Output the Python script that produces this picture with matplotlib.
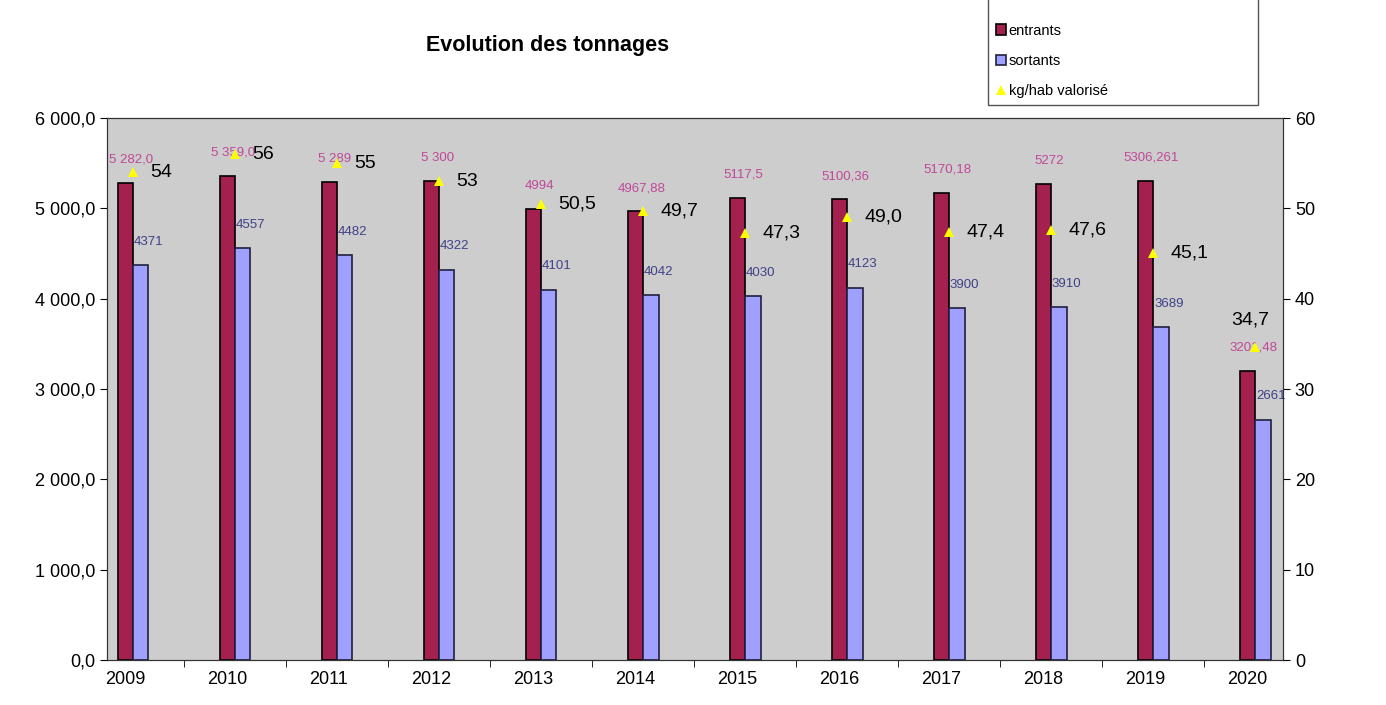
import matplotlib.pyplot as plt
import numpy as np
from matplotlib.ticker import FuncFormatter
from matplotlib.patches import Rectangle

# données
annees = ['2009', '2010', '2011', '2012', '2013', '2014', '2015', '2016', '2017', '2018', '2019', '2020']
entrants = [5282.0, 5359.0, 5289, 5300, 4994, 4967.88, 5117.5, 5100.36, 5170.18, 5272, 5306.261, 3201.48]
entrants_txt = ['5 282,0', '5 359,0', '5 289', '5 300', '4994', '4967,88', '5117,5', '5100,36',
                '5170,18', '5272', '5306,261', '3201,48']
sortants = [4371, 4557, 4482, 4322, 4101, 4042, 4030, 4123, 3900, 3910, 3689, 2661]
kg_hab = [54, 56, 55, 53, 50.5, 49.7, 47.3, 49.0, 47.4, 47.6, 45.1, 34.7]
kg_txt = ['54', '56', '55', '53', '50,5', '49,7', '47,3', '49,0', '47,4', '47,6', '45,1', '34,7']

plt.rcParams['font.family'] = ['Liberation Sans', 'DejaVu Sans']

fig = plt.figure(figsize=(13.86, 7.05), dpi=100)
ax = fig.add_axes([0.0772, 0.0638, 0.8485, 0.7688])
ax.set_facecolor('#cdcdcd')

x = np.arange(len(annees))
w = 0.15
ax.bar(x - w / 2, entrants, w, color='#a3204f', edgecolor='black', linewidth=1.2, label='entrants')
ax.bar(x + w / 2, sortants, w, color='#a0a0ff', edgecolor='#202040', linewidth=1.2, label='sortants')

for i in range(len(annees)):
    ax.text(x[i] - 0.02, entrants[i] + 190, entrants_txt[i], ha='center', va='bottom',
            fontsize=9.5, color='#c04898')
    ax.text(x[i] + w, sortants[i] + 190, str(sortants[i]), ha='center', va='bottom',
            fontsize=9.5, color='#404088')

ax.set_ylim(0, 6000)
ax.set_yticks(np.arange(0, 6001, 1000))
ax.yaxis.set_major_formatter(FuncFormatter(lambda v, p: f"{v:,.1f}".replace(',', ' ').replace('.', ',')))
ax.set_xticks(x - 0.08)
ax.set_xticklabels(annees)
ax.set_xticks(np.arange(-0.5, 12, 1), minor=True)
ax.tick_params(axis='x', which='major', length=0, labelsize=13, pad=8)
ax.tick_params(axis='x', which='minor', length=5)
ax.tick_params(axis='y', labelsize=13, length=5)

ax2 = ax.twinx()
ax2.plot(x, kg_hab, linestyle='none', marker='^', markersize=6.5, color='#ffff00',
         markeredgewidth=0, label='kg/hab valorisé')
for i in range(len(annees)):
    if i == len(annees) - 1:
        ax2.text(x[i] - 0.05, kg_hab[i] + 2.0, kg_txt[i], ha='center', va='bottom', fontsize=14)
    else:
        ax2.text(x[i] + 0.17, kg_hab[i], kg_txt[i], ha='left', va='center', fontsize=14)
ax2.set_ylim(0, 60)
ax2.set_yticks(np.arange(0, 61, 10))
ax2.tick_params(axis='y', labelsize=13, length=5)
ax.set_xlim(-0.255, 11.27)

for a in (ax, ax2):
    for s in a.spines.values():
        s.set_color('#333333')

fig.text(0.395, 0.935, 'Evolution des tonnages', ha='center', va='center',
         fontsize=15.5, fontweight='bold')

# cadre de la légende (coupé en haut comme sur l'original)
fig.patches.append(Rectangle((988 / 1386, 1 - 105 / 705), 270 / 1386, 0.2,
                             transform=fig.transFigure, facecolor='white',
                             edgecolor='#555555', linewidth=1.0))
h1, l1 = ax.get_legend_handles_labels()
h2, l2 = ax2.get_legend_handles_labels()
leg = fig.legend(h1 + h2, l1 + l2, loc='lower left', bbox_to_anchor=(0.713, 0.851),
                 fontsize=10.5, frameon=False, labelspacing=1.1, handlelength=0.7,
                 handletextpad=0.2, borderpad=0.5, borderaxespad=0)

fig.savefig('out.png', dpi=100, facecolor='white')
